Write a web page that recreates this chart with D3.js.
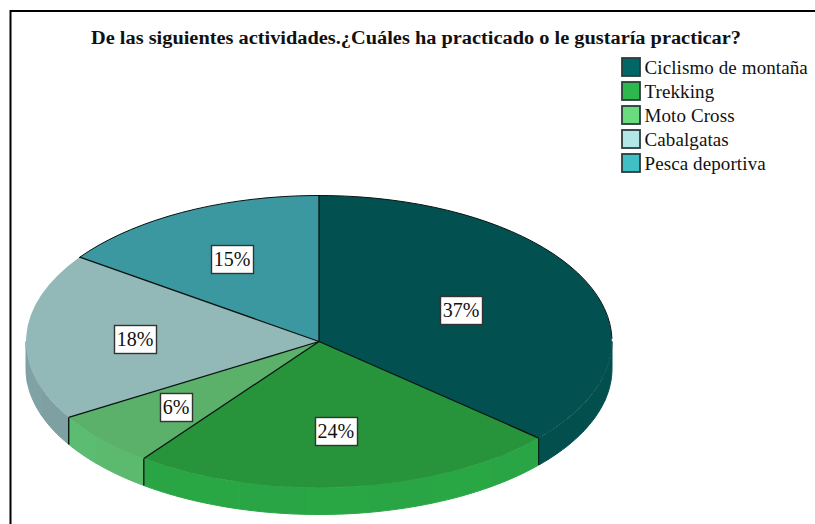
<!DOCTYPE html>
<html><head><meta charset="utf-8">
<script src="https://cdn.jsdelivr.net/npm/d3@7"></script>
<style>html,body{margin:0;padding:0;background:#fff}svg{display:block}text{font-family:"Liberation Serif",serif;fill:#111}</style>
</head><body><svg id="c" width="815" height="524"></svg>
<script>
const categories = ["Ciclismo de montaña","Trekking","Moto Cross","Cabalgatas","Pesca deportiva"];
const values = [36.5,23.7,6.1,18.5,15.2];
const labels = ["37%","24%","6%","18%","15%"];
const title = "De las siguientes actividades.¿Cuáles ha practicado o le gustaría practicar?";

// styling / layout (not data)
const topColors = ["#02504f","#27933a","#5bb06a","#93b8b8","#3b98a1"];
const sideColors = ["#034f4e","#2aa645","#5cbb70","#7fa1a4","#35868f"];
const legendColors = ["#006666","#2db84d","#6bdb80","#b3e6e6","#40bfc4"];
const labelRadii = [[.532,.53],[.558,.615],[.66,.667],[.628,.47],[.645,.64]];
const cx=319, cy=341.5, rx=293, ry=146, depth=27;

const svg = d3.select("#c");
svg.append("path").attr("d","M10.5 524V11H815").attr("fill","none").attr("stroke","#000").attr("stroke-width",2);
svg.append("text").attr("x",91).attr("y",44).attr("font-size",18.5).attr("font-weight","bold")
  .attr("textLength",650).attr("lengthAdjust","spacingAndGlyphs").text(title);

const pie = d3.pie().sort(null).value(d=>d)(values);
const px = a => cx + rx*Math.sin(a), py = a => cy - ry*Math.cos(a);

// side wall: only the front half is visible
const sides = svg.append("g");
pie.forEach((d,i)=>{
  const a0=Math.max(d.startAngle,Math.PI/2), a1=Math.min(d.endAngle,Math.PI*1.5);
  if(a1<=a0) return;
  const steps=d3.range(a0,a1,Math.PI/14).concat([a1]);
  for(let k=0;k<steps.length-1;k++){
    const s=d3.range(0,9).map(t=>steps[k]+(steps[k+1]-steps[k])*t/8);
    const pts=s.map(a=>[px(a),py(a)]).concat(s.slice().reverse().map(a=>[px(a),py(a)+depth]));
    const c=d3.color(sideColors[i]).brighter(k%2?0.015:-0.015);
    sides.append("path").attr("d",d3.line()(pts)+"Z").attr("fill",c).attr("stroke",c).attr("stroke-width",1);
  }
  if(d.startAngle>=Math.PI/2){
    sides.append("line").attr("x1",px(d.startAngle)).attr("y1",py(d.startAngle))
      .attr("x2",px(d.startAngle)).attr("y2",py(d.startAngle)+depth).attr("stroke","#0a1a10").attr("stroke-width",1.4);
  }
});

// top face
const arc = d3.arc().innerRadius(0).outerRadius(1);
const top_ = svg.append("g").attr("transform",`translate(${cx},${cy}) scale(${rx},${ry})`);
top_.selectAll("path").data(pie).join("path").attr("d",arc).attr("fill",(d,i)=>topColors[i]);

// spokes + back rim in black
const rim = svg.append("g").attr("fill","none").attr("stroke","#06130f").attr("stroke-width",1.3);
pie.forEach(d=>{
  rim.append("line").attr("x1",cx).attr("y1",cy).attr("x2",px(d.startAngle)).attr("y2",py(d.startAngle));
});
const back = d3.range(-55,90.5,3).map(a=>{const r=a*Math.PI/180;return [px(r),py(r)];});
rim.append("path").attr("d",d3.line()(back)).attr("stroke-width",1);

// value labels
const lab = svg.append("g");
pie.forEach((d,i)=>{
  const m=(d.startAngle+d.endAngle)/2;
  const x=cx+rx*labelRadii[i][0]*Math.sin(m), y=cy-ry*labelRadii[i][1]*Math.cos(m);
  const w=labels[i].length>2?42:32, h=28;
  lab.append("rect").attr("x",Math.round(x-w/2)+.5).attr("y",Math.round(y-h/2)+.5).attr("width",w).attr("height",h)
    .attr("fill","#fff").attr("stroke","#333").attr("stroke-width",1.4);
  lab.append("text").attr("x",x).attr("y",y+7).attr("text-anchor","middle").attr("font-size",20).text(labels[i]);
});

// legend
const y0 = d3.scalePoint().domain(categories).range([67,163]);
const leg = svg.append("g").selectAll("g").data(categories).join("g").attr("transform",d=>`translate(0,${y0(d)})`);
leg.append("rect").attr("x",622).attr("y",-9).attr("width",18).attr("height",18)
  .attr("fill",(d,i)=>legendColors[i]).attr("stroke","#2c3c3c").attr("stroke-width",1.8);
leg.append("text").attr("x",644.5).attr("y",7).attr("font-size",19).attr("letter-spacing",.1).text(d=>d);
</script></body></html>
